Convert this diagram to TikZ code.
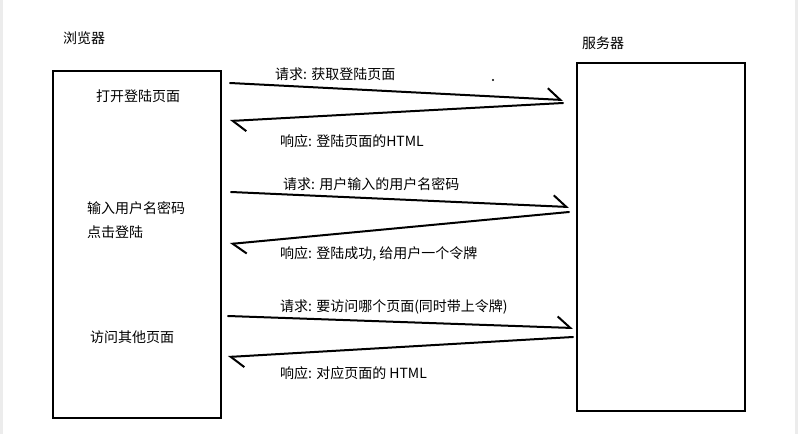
\documentclass[tikz,border=0pt]{standalone}
\usepackage{fontspec}
\setmainfont{Noto Sans CJK SC}
\usetikzlibrary{arrows.meta}

\begin{document}
\begin{tikzpicture}[x=1pt, y=-1pt, >={Straight Barb[harpoon, length=13pt, width=22pt]},   % halbe Pfeilspitzen
					box/.style={draw, line width=2pt, inner sep=0pt},
					msg/.style={->, line width=2pt, line cap=round},
					lbl/.style={anchor=west, inner sep=0pt},
					font=\fontsize{14}{17}\selectfont]
					\useasboundingbox (0,0) rectangle (798,434);
					\fill[gray!15] (0,0) rectangle (3,434);
					\fill[gray!15] (795,0) rectangle (798,434);
					% Browser und Server
					\node[box, minimum width=168pt, minimum height=347pt] (browser) at (137,244.5) {};
					\node[box, minimum width=168pt, minimum height=348pt] (server) at (661,237) {};
					\node[lbl] (browserlbl) at (63,38) {浏览器};
					\node[lbl] (serverlbl) at (582,43) {服务器};
					\node (open) at (138,96) {打开登陆页面};
					\node[lbl, align=left, font=\fontsize{14}{24}\selectfont] (login) at (87,220) {输入用户名密码\\点击登陆};
					\node[lbl] (visit) at (90,337) {访问其他页面};
					% Endpunkte der Pfeile
					\coordinate (q1s) at (230,83);  \coordinate (q1e) at (563,100);
					\coordinate (a1s) at (563,103); \coordinate (a1e) at (230,121);
					\coordinate (q2s) at (231,192); \coordinate (q2e) at (569,207);
					\coordinate (a2s) at (569,212); \coordinate (a2e) at (230,244);
					\coordinate (q3s) at (228,316); \coordinate (q3e) at (573,328);
					\coordinate (a3s) at (573,337); \coordinate (a3e) at (228,357);
					\draw[msg] (q1s) -- (q1e);
					\draw[msg] (a1s) -- (a1e);
					\draw[msg] (q2s) -- (q2e);
					\draw[msg] (a2s) -- (a2e);
					\draw[msg] (q3s) -- (q3e);
					\draw[msg] (a3s) -- (a3e);
					\node[lbl] (q1) at (275,74) {请求: 获取登陆页面};
					\node[lbl] (a1) at (280,141) {响应: 登陆页面的HTML};
					\node[lbl] (q2) at (283,184) {请求: 用户输入的用户名密码};
					\node[lbl] (a2) at (280,254) {响应: 登陆成功, 给用户一个令牌};
					\node[lbl] (q3) at (280,307) {请求: 要访问哪个页面(同时带上令牌)};
					\node[lbl] (a3) at (280,373) {响应: 对应页面的 HTML};
					\fill (493,80) circle (1.2pt);
				\end{tikzpicture}
\end{document}
